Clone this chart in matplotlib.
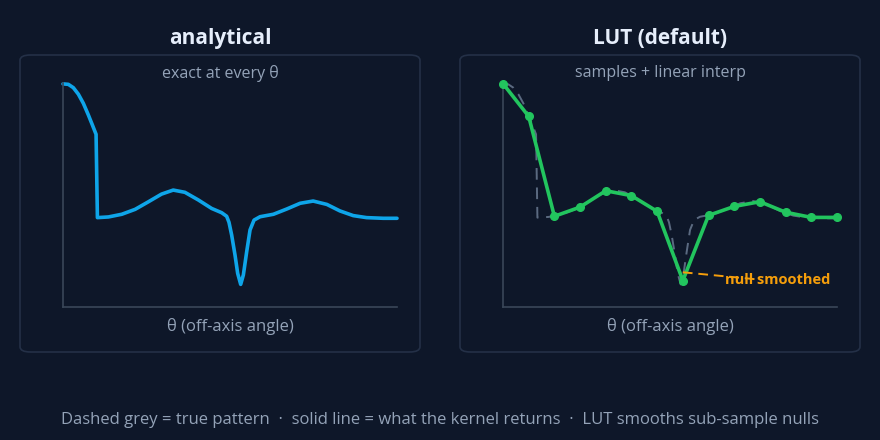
import matplotlib
matplotlib.use("Agg")
import matplotlib.pyplot as plt
from matplotlib.patches import FancyBboxPatch

# ---- data (normalized angle / normalized gain) ----
true_theta = [0.0, 0.016, 0.031, 0.046, 0.061, 0.076, 0.088, 0.099, 0.103, 0.136, 0.176,
              0.216, 0.256, 0.295, 0.330, 0.365, 0.405, 0.445, 0.475, 0.490, 0.497,
              0.505, 0.515, 0.523, 0.532, 0.540, 0.550, 0.560, 0.572, 0.590, 0.630,
              0.670, 0.710, 0.749, 0.790, 0.829, 0.869, 0.909, 0.959, 1.0]
true_gain = [0.996, 0.994, 0.979, 0.950, 0.909, 0.857, 0.8125, 0.771, 0.399, 0.402, 0.414,
             0.436, 0.470, 0.504, 0.522, 0.512, 0.478, 0.440, 0.421, 0.405, 0.378,
             0.321, 0.232, 0.150, 0.101, 0.143, 0.247, 0.344, 0.388, 0.403, 0.414,
             0.4375, 0.463, 0.473, 0.458, 0.429, 0.408, 0.399, 0.396, 0.396]

lut_theta = [0/13, 1/13, 2/13, 3/13, 4/13, 5/13, 6/13, 7/13, 8/13, 9/13, 10/13, 11/13, 12/13, 13/13]
lut_gain = [0.997, 0.851, 0.405, 0.446, 0.519, 0.497, 0.427, 0.118, 0.409, 0.449, 0.470,
            0.423, 0.40, 0.40]

titles = ["analytical", "LUT (default)"]
subtitles = ["exact at every \u03b8", "samples + linear interp"]
xlabel = "\u03b8 (off-axis angle)"
footer = ("Dashed grey = true pattern  \u00b7  solid line = what the kernel returns  \u00b7  "
          "LUT smooths sub-sample nulls")
note = "null smoothed"

BG = "#0e1729"
BOX_EDGE = "#243047"
SPINE = "#3a4759"
MUTED = "#94a3b8"
TITLE_C = "#e6eefb"
BLUE = "#0ea5e9"
GREEN = "#22c55e"
ORANGE = "#f59e0b"
GREY = "#64748b"

plt.rcParams["font.family"] = ["Open Sans", "DejaVu Sans"]

W, H = 880, 440
fig = plt.figure(figsize=(W / 100, H / 100), dpi=100, facecolor=BG)


def fx(px):
    return px / W


def fy(py):
    return 1 - py / H


panel_x0 = [20, 460]
axes_x0 = [63, 503]
for i in range(2):
    bx = panel_x0[i]
    box = FancyBboxPatch((fx(bx), fy(352)), fx(400), (352 - 55) / H,
                         boxstyle="round,pad=0,rounding_size=0.012",
                         transform=fig.transFigure, facecolor=BG,
                         edgecolor=BOX_EDGE, linewidth=1.2, zorder=-5)
    fig.patches.append(box)
    cx = bx + 200
    fig.text(fx(cx), fy(38), titles[i], ha="center", va="center",
             fontsize=15, fontweight="bold", color=TITLE_C)
    fig.text(fx(cx), fy(73), subtitles[i], ha="center", va="center",
             fontsize=11.5, color=MUTED)

    ax = fig.add_axes([fx(axes_x0[i]), fy(307), fx(334), 224 / H], zorder=2)
    ax.set_facecolor("none")
    ax.set_xlim(0, 1)
    ax.set_ylim(0, 1)
    for s in ["top", "right"]:
        ax.spines[s].set_visible(False)
    for s in ["left", "bottom"]:
        ax.spines[s].set_color(SPINE)
        ax.spines[s].set_linewidth(1.2)
    ax.set_xticks([])
    ax.set_yticks([])
    ax.set_xlabel(xlabel, color=MUTED, fontsize=12, labelpad=8)

    if i == 0:
        ax.plot(true_theta, true_gain, color=BLUE, lw=2.6, clip_on=False,
                solid_joinstyle="round", solid_capstyle="round")
    else:
        ax.plot(true_theta, true_gain, color=GREY, lw=1.4, ls=(0, (6, 4)),
                alpha=0.9, clip_on=False)
        ax.plot(lut_theta, lut_gain, color=GREEN, lw=2.6, marker="o", ms=5.5,
                clip_on=False, zorder=3)
        k = 7
        tx, ty = 0.77, 0.122
        ax.plot([lut_theta[k], tx], [lut_gain[k] + 0.037, ty], color=ORANGE,
                lw=1.4, ls=(0, (5, 3)), zorder=4)
        ax.text(0.665, ty, note, color=ORANGE, fontsize=10.5, fontweight="bold",
                ha="left", va="center", zorder=5)

fig.text(0.5, fy(420), footer, ha="center", va="center", fontsize=12, color=MUTED)

fig.savefig("out.png", dpi=100, facecolor=BG)
